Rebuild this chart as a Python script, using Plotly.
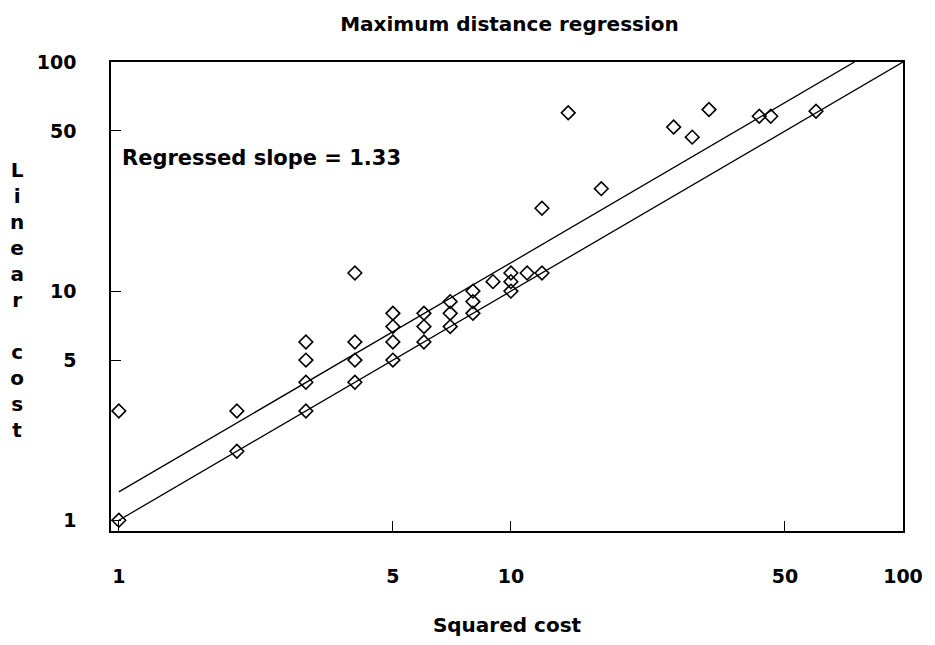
import plotly.graph_objects as go

# Data points (squared cost, linear cost)
sq_cost = [1, 1, 2, 2, 3, 3, 3, 3, 4, 4, 4, 4,
           5, 5, 5, 5, 6, 6, 6, 7, 7, 7, 8, 8, 8, 9,
           10, 10, 10, 11, 12, 12, 14, 17, 26, 29, 32, 43, 46, 60]
lin_cost = [3, 1, 3, 2, 6, 5, 4, 3, 12, 6, 5, 4,
            8, 7, 6, 5, 8, 7, 6, 9, 8, 7, 10, 9, 8, 11,
            12, 11, 10, 12, 12, 23, 60, 28, 52, 47, 62, 58, 58, 61]

# Reference lines
diag_x = [1, 100]
slope = 1.33
fit_x = [1, 75.2]

tick_vals = [1, 5, 10, 50, 100]
tick_text = ["1", "5", "10", "50", "100"]

FONT = "DejaVu Sans"
W, H = 935, 645
ML, MR, MT, MB = 111, 27, 62, 108

fig = go.Figure()
fig.add_trace(go.Scatter(
    x=diag_x, y=diag_x, mode="lines",
    line=dict(color="black", width=1.3), hoverinfo="skip", showlegend=False))
fig.add_trace(go.Scatter(
    x=fit_x, y=[slope * v for v in fit_x], mode="lines",
    line=dict(color="black", width=1.3), hoverinfo="skip", showlegend=False))
fig.add_trace(go.Scatter(
    x=sq_cost, y=lin_cost, mode="markers",
    marker=dict(symbol="diamond-open", size=10.5, color="black",
                line=dict(width=1.6, color="black")),
    showlegend=False))

axis_common = dict(
    type="log", showgrid=False, zeroline=False,
    showline=True, linecolor="black", linewidth=1.5, mirror=True,
    ticks="inside", ticklen=10, tickwidth=1.2, tickcolor="black",
    tickvals=tick_vals, ticktext=tick_text,
    tickfont=dict(family=FONT, size=19, color="black", weight="bold"),
)

fig.update_layout(
    width=W, height=H,
    margin=dict(l=ML, r=MR, t=MT, b=MB),
    paper_bgcolor="white", plot_bgcolor="white",
    title=dict(text="Maximum distance regression", x=(ML + (W - ML - MR) / 2) / W,
               xanchor="center", y=1 - 24 / H, yanchor="middle",
               font=dict(family=FONT, size=20, color="black", weight="bold")),
    xaxis=dict(axis_common, range=[-0.02, 2.0], ticklabelstandoff=27,
               title=dict(text="Squared cost", standoff=32,
                          font=dict(family=FONT, size=20, color="black", weight="bold"))),
    yaxis=dict(axis_common, range=[-0.047, 2.0], ticklabelstandoff=29),
    font=dict(family=FONT, color="black"),
)

PW, PH = W - ML - MR, H - MT - MB

fig.add_annotation(
    x=(120 - ML) / PW, y=(H - MB - 159) / PH, xref="paper", yref="paper",
    xanchor="left", yanchor="middle",
    text="Regressed slope = 1.33", showarrow=False,
    font=dict(family=FONT, size=21, color="black", weight="bold"))

fig.add_annotation(
    x=(16 - ML) / PW, y=(H - MB - 303) / PH, xref="paper", yref="paper",
    xanchor="center", yanchor="middle",
    text="<br>".join(list("Linear")) + "<br><br>" + "<br>".join(list("cost")),
    showarrow=False, align="center",
    font=dict(family=FONT, size=20, color="black", weight="bold"))

fig.write_html("out.html")
